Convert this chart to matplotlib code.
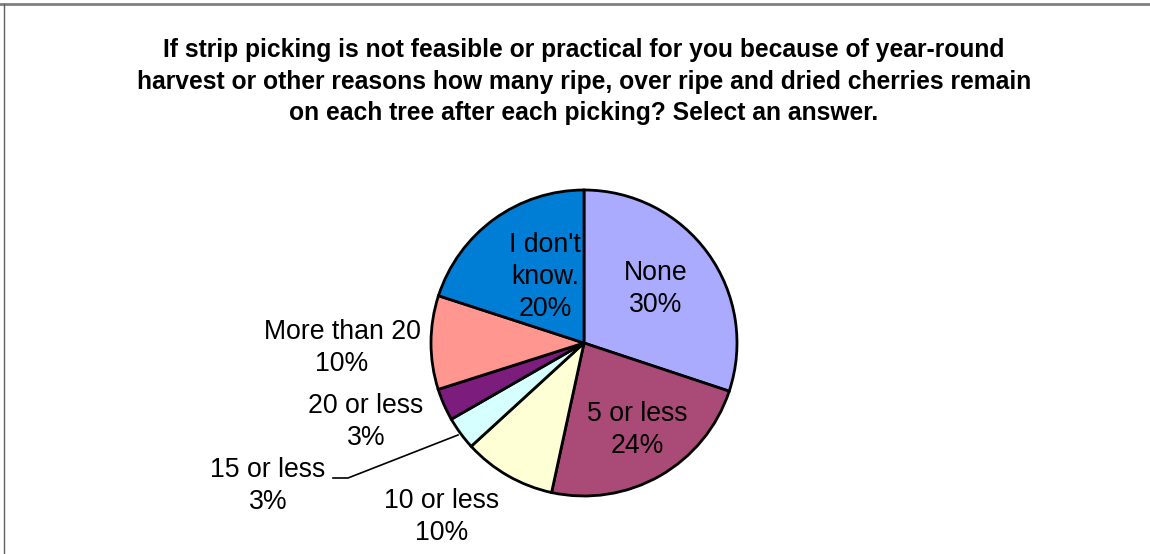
import matplotlib
matplotlib.use("Agg")
import matplotlib.pyplot as plt
from matplotlib.lines import Line2D

title = ("If strip picking is not feasible or practical for you because of year-round\n"
         "harvest or other reasons how many ripe, over ripe and dried cherries remain\n"
         "on each tree after each picking? Select an answer.")
categories = ["None", "5 or less", "10 or less", "15 or less", "20 or less",
              "More than 20", "I don't\nknow."]
values = [30.1, 23.3, 9.8, 3.5, 3.4, 9.9, 20.0]
pct_labels = ["30%", "24%", "10%", "3%", "3%", "10%", "20%"]
colors = ["#AAAAFF", "#AA4A76", "#FFFFD6", "#D6FFFF", "#7C1C7C", "#FF968F", "#007ED6"]

W, H = 1150, 554
fig = plt.figure(figsize=(W / 100, H / 100), dpi=100)
ax = fig.add_axes([0, 0, 1, 1])
ax.set_xlim(0, W)
ax.set_ylim(0, H)
ax.set_aspect("equal")
ax.axis("off")

font = ["Liberation Sans", "DejaVu Sans"]

def py(y):
    return H - y

cx, cy, r = 584, 343, 153
ax.pie(values, colors=colors, startangle=90, counterclock=False,
       center=(cx, py(cy)), radius=r,
       wedgeprops=dict(edgecolor="black", linewidth=2.0))
ax.set_xlim(0, W)
ax.set_ylim(0, H)

label_pos = [(656, 289), (637, 430), (442, 517), (268, 486), (366, 422),
             (342, 348), (545, 277)]
for cat, pct, (x, y) in zip(categories, pct_labels, label_pos):
    ax.text(x, py(y), f"{cat}\n{pct}", ha="center", va="center",
            fontsize=19.2, family=font, linespacing=1.3, color="black")

# leader line for "15 or less"
ax.add_line(Line2D([333, 348, 458], [py(478), py(478), py(435)],
                   color="black", linewidth=1.2))

fig.text(584 / W, 1 - 81.5 / H, title, ha="center", va="center",
         fontsize=17.7, fontweight="bold", family=font, linespacing=1.42)

# frame lines
fig.add_artist(Line2D([0, 1], [1 - 3.5 / H, 1 - 3.5 / H], color="#808080",
                      linewidth=2.0, transform=fig.transFigure))
fig.add_artist(Line2D([3.5 / W, 3.5 / W], [0, 1 - 3.5 / H], color="#606060",
                      linewidth=1.0, transform=fig.transFigure))

fig.savefig("out.png", dpi=100)
